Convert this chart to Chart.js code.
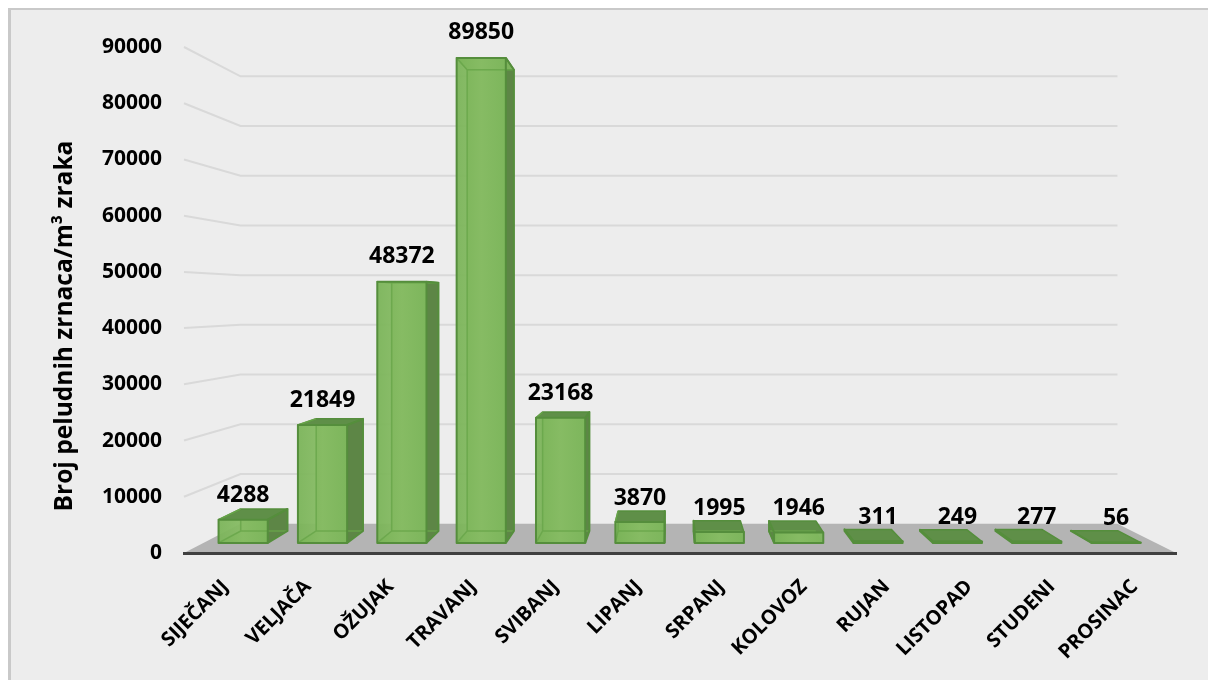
<!DOCTYPE html>
<html><head><meta charset="utf-8">
<style>html,body{margin:0;padding:0;background:#fff}canvas{display:block}</style>
<script src="https://cdn.jsdelivr.net/npm/chart.js@4"></script></head>
<body><canvas id="c" width="1208" height="680"></canvas>
<script>
const months = ["SIJEČANJ","VELJAČA","OŽUJAK","TRAVANJ","SVIBANJ","LIPANJ","SRPANJ","KOLOVOZ","RUJAN","LISTOPAD","STUDENI","PROSINAC"];
const pollenCounts = [4288,21849,48372,89850,23168,3870,1995,1946,311,249,277,56];
const axisTitle = "Broj peludnih zrnaca/m³ zraka";
const FONT = '"Open Sans", sans-serif';

// perspective of the 3D floor: every point is projected from the front plane
const VP = {x:671, y:300};
const S_WALL = 0.884, S_BAR_FRONT = 0.960, S_BAR_BACK = 0.913;
const proj = (x,y,s) => [VP.x+(x-VP.x)*s, VP.y+(y-VP.y)*s];
function poly(ctx,pts,fill,stroke,lw){
  ctx.beginPath();
  pts.forEach((p,i)=> i?ctx.lineTo(p[0],p[1]):ctx.moveTo(p[0],p[1]));
  ctx.closePath();
  if(fill){ctx.fillStyle=fill;ctx.fill();}
  if(stroke){ctx.strokeStyle=stroke;ctx.lineWidth=lw||1;ctx.lineJoin='round';ctx.stroke();}
}
const scene = {
  id:'scene',
  beforeDraw(chart){
    const {ctx,chartArea:a,scales:{y}} = chart;
    ctx.save();
    ctx.fillStyle='#fff';ctx.fillRect(0,0,chart.width,chart.height);
    ctx.fillStyle='#c9c9c9';ctx.fillRect(8,8,chart.width-8,chart.height-8);
    ctx.fillStyle='#ededed';ctx.fillRect(11,10,chart.width-11,chart.height-10);
    const b=y.getPixelForValue(0);
    poly(ctx,[[a.left,b],[a.right,b],proj(a.right,b,S_WALL),proj(a.left,b,S_WALL)],'#b4b4b4');
    ctx.strokeStyle='#d9d9d9';ctx.lineWidth=2;
    y.ticks.forEach(t=>{
      if(!t.value) return;
      const py=y.getPixelForValue(t.value);
      const l=proj(a.left,py,S_WALL), r=proj(a.right,py,S_WALL);
      ctx.beginPath();ctx.moveTo(a.left,py);ctx.lineTo(l[0],l[1]);ctx.lineTo(r[0],r[1]);ctx.stroke();
    });
    ctx.restore();
  },
  beforeDatasetDraw(chart,args){
    const {ctx}=chart, meta=args.meta;
    ctx.save();
    meta.data.forEach(el=>{
      const hw=el.width/2, xl=el.x-hw, xr=el.x+hw, yt=el.y, yb=el.base;
      const F=(x,y)=>proj(x,y,S_BAR_FRONT), B=(x,y)=>proj(x,y,S_BAR_BACK);
      const seenFromAbove = F(xl,yt)[1] > B(xl,yt)[1];
      const line='#558e3c', inner='rgba(104,166,74,.85)';
      poly(ctx,[B(xl,yt),B(xr,yt),B(xr,yb),B(xl,yb)],'#7db35c');
      poly(ctx,[F(xl,yb),F(xr,yb),B(xr,yb),B(xl,yb)],'#78ae58');
      const sx = el.x<VP.x ? xr : xl;
      poly(ctx,[F(sx,yt),B(sx,yt),B(sx,yb),F(sx,yb)],'#5d8646');
      poly(ctx,[F(xl,yt),F(xr,yt),B(xr,yt),B(xl,yt)],seenFromAbove?'#5f8f48':'#7db35c',line,1.5);
      const h=Math.abs(F(xl,yb)[1]-F(xl,yt)[1]);
      const g=ctx.createLinearGradient(F(xl,yt)[0],0,F(xr,yt)[0],0);
      g.addColorStop(0,'rgba(122,180,88,.94)');g.addColorStop(.5,'rgba(135,188,100,.94)');g.addColorStop(1,'rgba(125,182,92,.94)');
      ctx.strokeStyle=inner;ctx.lineWidth=1.5;
      poly(ctx,[F(xl,yt),F(xr,yt),F(xr,yb),F(xl,yb)],h>1?g:null);
      ctx.beginPath();
      const bl=B(xl,yb),tl=B(xl,yt),br=B(xr,yb),tr=B(xr,yt),fl=F(xl,yb);
      if(h>6){
        ctx.moveTo(fl[0],fl[1]);ctx.lineTo(bl[0],bl[1]);
        ctx.lineTo(br[0],br[1]);
        ctx.moveTo(bl[0],bl[1]);ctx.lineTo(tl[0],Math.max(tl[1],F(xl,yt)[1]));
        if(!seenFromAbove){ctx.moveTo(F(xl,yt)[0],F(xl,yt)[1]);ctx.lineTo(tl[0],tl[1]);ctx.lineTo(tr[0],tr[1]);}
        else {ctx.moveTo(tl[0],tl[1]);ctx.lineTo(F(xl,yt)[0],F(xl,yt)[1]);}
        ctx.stroke();
      }
      poly(ctx,[F(xl,yt),F(xr,yt),F(xr,yb),F(xl,yb)],null,line,2);
      ctx.strokeStyle=line;ctx.lineWidth=2;ctx.beginPath();
      const a1=F(sx,yt),a2=B(sx,yt),a3=B(sx,yb),a4=F(sx,yb);
      ctx.moveTo(a1[0],a1[1]);ctx.lineTo(a2[0],a2[1]);ctx.lineTo(a3[0],a3[1]);ctx.lineTo(a4[0],a4[1]);ctx.stroke();
    });
    ctx.restore();
    return false;
  },
  afterDatasetsDraw(chart){
    const {ctx}=chart, meta=chart.getDatasetMeta(0);
    ctx.save();
    ctx.font='700 23px '+FONT;ctx.fillStyle='#000';ctx.textAlign='center';ctx.textBaseline='middle';
    meta.data.forEach((el,i)=>{
      const v=pollenCounts[i];
      const top=Math.min(proj(el.x,el.y,S_BAR_FRONT)[1],proj(el.x,el.y,S_BAR_BACK)[1]);
      const gap=12+Math.min(13,v/3700);
      ctx.fillText(String(v),proj(el.x,el.y,S_BAR_FRONT)[0],top-gap);
    });
    ctx.restore();
  }
};
const TITLE_SHIFT = 26;
new Chart(document.getElementById('c'),{
  type:'bar',
  data:{labels:months,datasets:[{data:pollenCounts,backgroundColor:'#7db35c',borderColor:'#558e3c',borderWidth:2,barPercentage:0.62,categoryPercentage:1}]},
  options:{
    responsive:false,animation:false,devicePixelRatio:1,
    layout:{padding:{top:47,right:32,left:0,bottom:0}},
    plugins:{legend:{display:false},tooltip:{enabled:false}},
    scales:{
      x:{
        grid:{display:false},
        border:{display:true,color:'#404040',width:3},
        ticks:{color:'#000',font:{family:FONT,weight:'700',size:20},maxRotation:45,minRotation:45,padding:14,autoSkip:false},
        afterFit(s){s.height=127;}
      },
      y:{
        min:0,max:90000,
        grid:{display:false},border:{display:false},
        ticks:{stepSize:10000,color:'#000',font:{family:FONT,weight:'700',size:21},padding:14,callback:v=>String(v)},
        title:{display:true,text:axisTitle,color:'#000',font:{family:FONT,weight:'700',size:24.5},padding:{top:50,bottom:0}},
        afterFit(s){
          s.width=184;
          if(!s._shifted){
            const d=s.drawTitle;
            s.drawTitle=function(){const c=this.ctx;c.save();c.translate(0,TITLE_SHIFT);d.call(this);c.restore();};
            s._shifted=true;
          }
        }
      }
    }
  },
  plugins:[scene]
});
</script></body></html>
